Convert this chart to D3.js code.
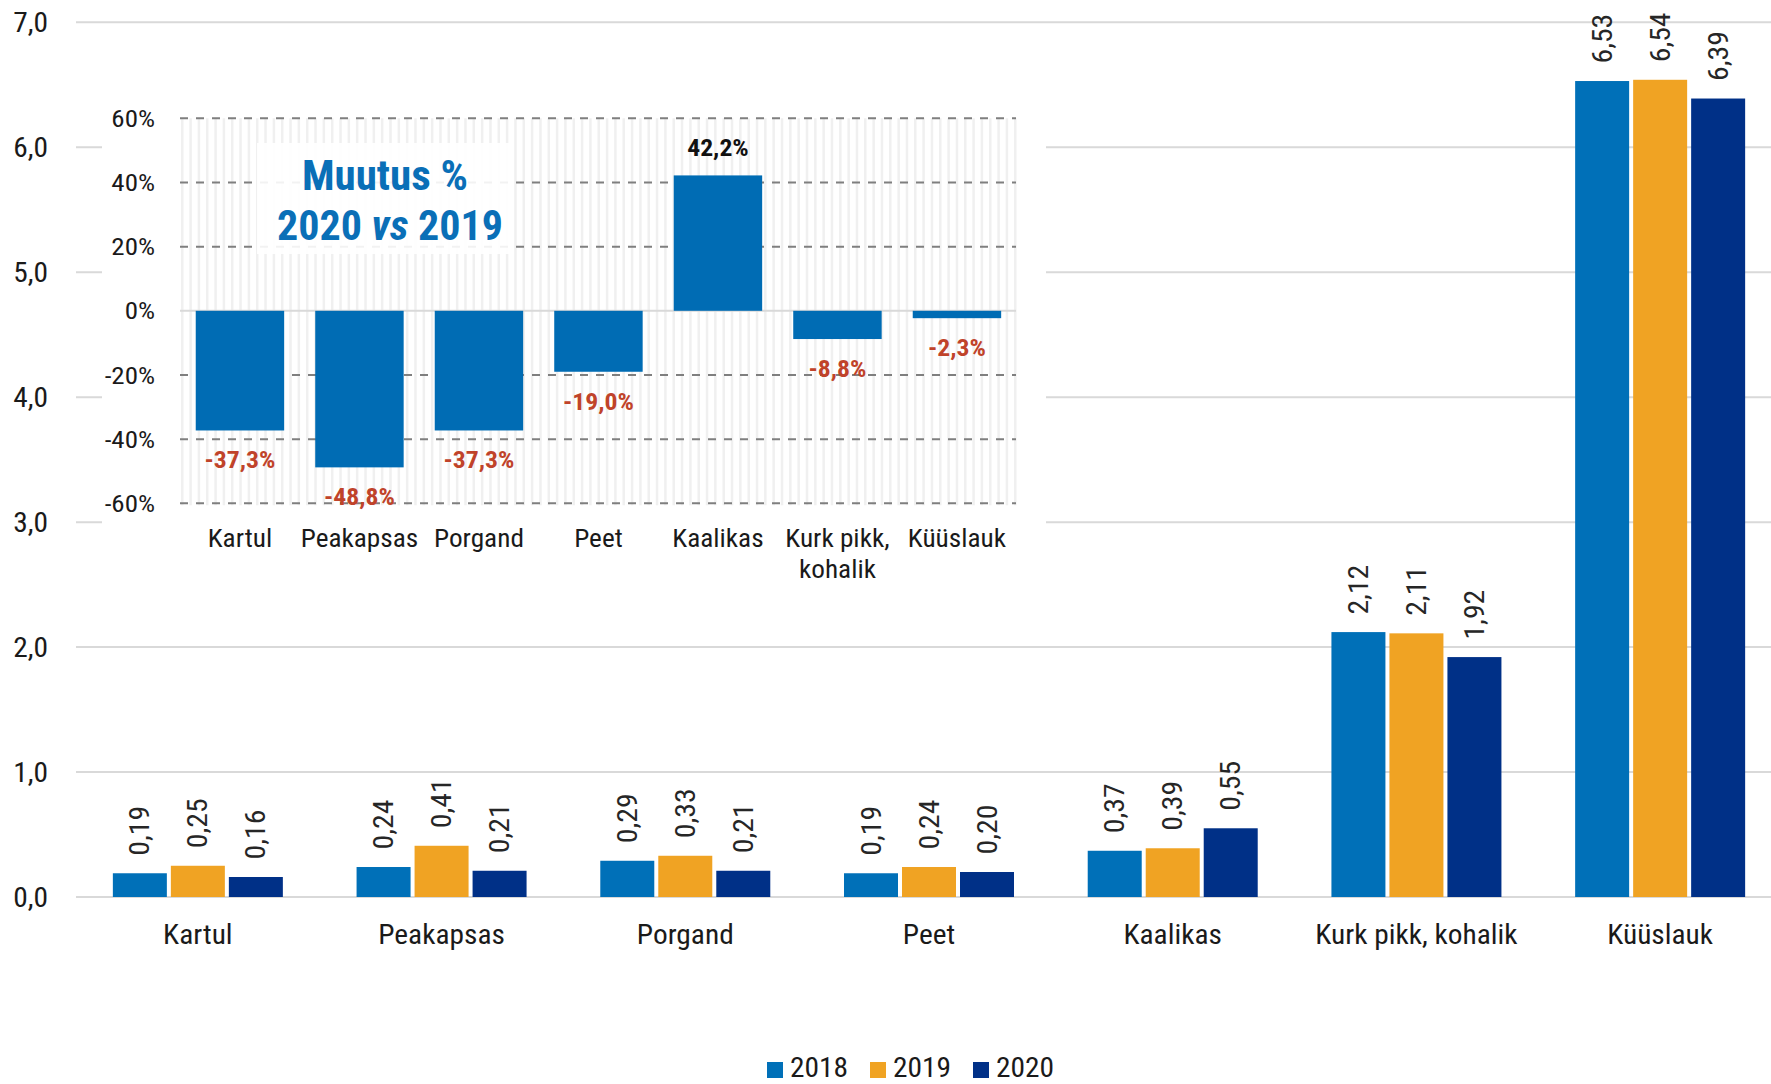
<!DOCTYPE html>
<html>
<head>
<meta charset="utf-8">
<script src="https://cdn.jsdelivr.net/npm/d3@7"></script>
<style>
  html, body { margin: 0; padding: 0; background: #ffffff; }
  svg { display: block; }
</style>
</head>
<body>
<svg id="chart" width="1771" height="1084"></svg>
<script>
// ---------------- DATA ----------------
const categories = ["Kartul", "Peakapsas", "Porgand", "Peet", "Kaalikas", "Kurk pikk, kohalik", "Küüslauk"];
const years = ["2018", "2019", "2020"];
const values2018 = [0.19, 0.24, 0.29, 0.19, 0.37, 2.12, 6.53];
const values2019 = [0.25, 0.41, 0.33, 0.24, 0.39, 2.11, 6.54];
const values2020 = [0.16, 0.21, 0.21, 0.20, 0.55, 1.92, 6.39];
const yTicks = [0, 1, 2, 3, 4, 5, 6, 7];

const insetCategories = [["Kartul"], ["Peakapsas"], ["Porgand"], ["Peet"], ["Kaalikas"], ["Kurk pikk,", "kohalik"], ["Küüslauk"]];
const changePct = [-37.3, -48.8, -37.3, -19.0, 42.2, -8.8, -2.3];
const insetTicks = [-60, -40, -20, 0, 20, 40, 60];
const insetTitle1 = "Muutus %";
const insetTitle2 = ["2020 ", "vs", " 2019"];

// ---------------- FONT ----------------
function fontAvailable(name) {
  const c = document.createElement("canvas").getContext("2d");
  const s = "mmmmmmmmmmlli0123456789KaalikasWQ";
  c.font = "72px monospace";
  const a = c.measureText(s).width;
  c.font = "72px '" + name + "', monospace";
  const b = c.measureText(s).width;
  return Math.abs(a - b) > 0.5;
}
const hasRC = fontAvailable("Roboto Condensed");
const FAM = hasRC ? "'Roboto Condensed', Roboto, sans-serif" : "Roboto, 'Noto Sans', sans-serif";
const SX = hasRC ? 1 : 0.87;

const svg = d3.select("#chart");

function txt(parent, x, y, str, o) {
  o = o || {};
  const wf = o.wf === undefined ? 1.07 : o.wf;
  let tr = `translate(${x},${y})`;
  if (o.rotate) tr += ` rotate(${o.rotate})`;
  tr += ` scale(${SX * wf},1)`;
  const g = parent.append("g").attr("transform", tr);
  const t = g.append("text")
    .attr("x", 0).attr("y", 0)
    .attr("dy", o.dy || 0)
    .attr("text-anchor", o.anchor || "start")
    .attr("font-family", FAM)
    .attr("font-size", o.size || 27)
    .attr("font-weight", o.weight || "normal")
    .attr("fill", o.fill || "#1a1a1a");
  if (Array.isArray(str)) {
    str.forEach(s => {
      t.append("tspan").text(s.text).attr("font-style", s.italic ? "italic" : "normal");
    });
  } else t.text(str);
  return t;
}

const fmt2 = v => d3.format(".2f")(v).replace(".", ",");
const fmtPct = v => d3.format(".1f")(v).replace("\u2212", "-").replace(".", ",") + "%";

// ---------------- MAIN CHART ----------------
const series = [values2018, values2019, values2020];
const colors = { "2018": "#0070B8", "2019": "#F0A323", "2020": "#003087" };

const y = d3.scaleLinear().domain([0, 7]).range([897, 22.3]);
const x0 = d3.scaleBand().domain(categories).range([76, 1782]).paddingInner(0).paddingOuter(0);
const groupW = 170;
const x1 = d3.scaleBand().domain(years)
  .range([(x0.bandwidth() - groupW) / 2, (x0.bandwidth() + groupW) / 2])
  .paddingInner(0.069).paddingOuter(0);

// gridlines
const gMain = svg.append("g");
gMain.selectAll("line.grid").data(yTicks).join("line")
  .attr("x1", 76).attr("x2", 1771)
  .attr("y1", d => y(d)).attr("y2", d => y(d))
  .attr("stroke", "#d9d9d9").attr("stroke-width", 2);

// y tick labels
yTicks.forEach(t => txt(gMain, 48, y(t), d3.format(".1f")(t).replace(".", ","), { anchor: "end", dy: "0.35em", size: 27.5 }));

// bars
const rows = [];
categories.forEach((c, i) => years.forEach((yr, j) => rows.push({ c, yr, v: series[j][i] })));

gMain.selectAll("rect.bar").data(rows).join("rect")
  .attr("x", d => x0(d.c) + x1(d.yr))
  .attr("y", d => y(d.v))
  .attr("width", x1.bandwidth())
  .attr("height", d => y(0) - y(d.v))
  .attr("fill", d => colors[d.yr]);

// value labels
rows.forEach(d => {
  txt(gMain, x0(d.c) + x1(d.yr) + x1.bandwidth() / 2, y(d.v) - 17.5, fmt2(d.v),
    { rotate: -90, anchor: "start", dy: "0.35em", size: 27.5, fill: "#262626", wf: 1.08 });
});

// category labels
categories.forEach(c => txt(gMain, x0(c) + x0.bandwidth() / 2, 944, c, { anchor: "middle", size: 27.5 }));

// legend
const legendX = [767, 870, 973];
years.forEach((yr, i) => {
  gMain.append("rect").attr("x", legendX[i]).attr("y", 1062).attr("width", 16).attr("height", 16).attr("fill", colors[yr]);
  txt(gMain, legendX[i] + 23, 1077, yr, { size: 27.5 });
});

// ---------------- INSET ----------------
const gIn = svg.append("g");
gIn.append("rect").attr("x", 102).attr("y", 80).attr("width", 944).attr("height", 520).attr("fill", "#ffffff");

const yi = d3.scaleLinear().domain([-60, 60]).range([503.3, 118.3]);
const xi = d3.scaleBand().domain(d3.range(insetCategories.length)).range([180.2, 1016.7]).paddingInner(0.26).paddingOuter(0.13);

// striped pattern background
const stripeStep = 8.33;
const stripes = d3.range(181, 1016, stripeStep);
gIn.selectAll("rect.stripe").data(stripes).join("rect")
  .attr("x", d => d).attr("y", yi(60)).attr("width", 2.5).attr("height", yi(-60) - yi(60) + 2)
  .attr("fill", "#f0f0f0");

// dashed gridlines
gIn.selectAll("line.dash").data(insetTicks.filter(t => t !== 0)).join("line")
  .attr("x1", 180).attr("x2", 1016)
  .attr("y1", d => yi(d)).attr("y2", d => yi(d))
  .attr("stroke", "#7f7f7f").attr("stroke-width", 2).attr("stroke-dasharray", "8,8");

// title box
gIn.append("rect").attr("x", 257).attr("y", 143).attr("width", 256).attr("height", 111)
  .attr("fill", "#ffffff").attr("fill-opacity", 0.9);

// zero line
gIn.append("line").attr("x1", 180).attr("x2", 1016).attr("y1", yi(0)).attr("y2", yi(0))
  .attr("stroke", "#d9d9d9").attr("stroke-width", 2);

// bars
gIn.selectAll("rect.ibar").data(changePct).join("rect")
  .attr("x", (d, i) => xi(i))
  .attr("y", d => yi(Math.max(0, d)))
  .attr("width", xi.bandwidth())
  .attr("height", d => Math.abs(yi(d) - yi(0)))
  .attr("fill", "#006CB4");

// value labels
changePct.forEach((d, i) => {
  const cx = xi(i) + xi.bandwidth() / 2;
  if (d >= 0) txt(gIn, cx, yi(d) - 19, fmtPct(d), { anchor: "middle", size: 24, weight: "bold", fill: "#111111" });
  else txt(gIn, cx, yi(d) + 38, fmtPct(d), { anchor: "middle", size: 24, weight: "bold", fill: "#C0432A" });
});

// tick labels
insetTicks.forEach(t => txt(gIn, 155, yi(t), t + "%", { anchor: "end", dy: "0.35em", size: 24.5, wf: 1.1 }));

// category labels
insetCategories.forEach((lines, i) => {
  lines.forEach((l, k) => txt(gIn, xi(i) + xi.bandwidth() / 2, 546.7 + k * 31.5, l, { anchor: "middle", size: 25.5 }));
});

// title
txt(gIn, 385, 190, insetTitle1, { anchor: "middle", size: 43, weight: "bold", fill: "#0A6FB7", wf: 1 });
txt(gIn, 390, 240, [{ text: insetTitle2[0] }, { text: insetTitle2[1], italic: true }, { text: insetTitle2[2] }],
  { anchor: "middle", size: 42, weight: "bold", fill: "#0A6FB7", wf: 1 });
</script>
</body>
</html>
